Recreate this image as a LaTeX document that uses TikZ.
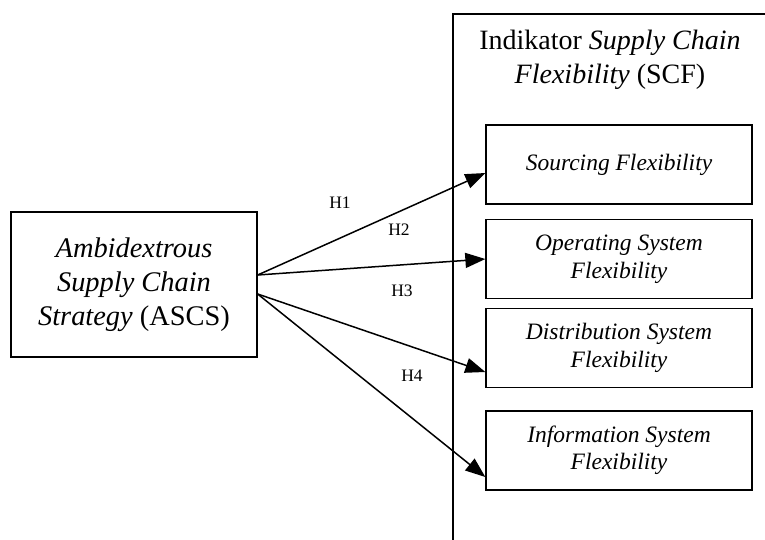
\documentclass[tikz,border=0pt]{standalone}
\usepackage{fontspec}
\setmainfont{Liberation Serif}
\usetikzlibrary{arrows.meta,positioning}

\tikzset{
    kotak/.style={draw, line width=1.3pt, align=center, inner sep=0pt},
    panah/.style={-{Triangle[length=20pt,width=15pt]}, line width=1.5pt},
    label h/.style={font=\fontsize{17.5}{19}\selectfont}
}

\begin{document}
\begin{tikzpicture}[
    x=1pt, y=-1pt, % satuan piksel, sumbu y ke bawah
    >=stealth
]
    \clip (0,0) rectangle (765,539);

    % kotak besar indikator SCF (terpotong di kanan dan bawah)
    \draw[line width=1.3pt] (453,560) |- (790,14);
    \node[align=center, font=\fontsize{28}{34}\selectfont] (judul) at (610,60)
        {Indikator \textit{Supply Chain}\\\textit{Flexibility} (SCF)};

    % variabel independen
    \node[kotak, minimum width=246pt, minimum height=145pt,
          font=\fontsize{28.4}{34}\selectfont] (ascs) at (134,284.5)
        {\textit{Ambidextrous}\\\textit{Supply Chain}\\\textit{Strategy} (ASCS)};

    % indikator SCF
    \foreach \nama/\yy/\teks in {sf/164.5/{\textit{Sourcing Flexibility}},
                                 osf/259/{\textit{Operating System}\\\textit{Flexibility}},
                                 dsf/348/{\textit{Distribution System}\\\textit{Flexibility}},
                                 isf/450.5/{\textit{Information System}\\\textit{Flexibility}}} {
        \node[kotak, minimum width=266pt, minimum height=79pt,
              font=\fontsize{23.5}{27.5}\selectfont] (\nama) at (619,\yy) {\teks};
    }

    % hipotesis
    \draw[panah] ([yshift=9.5pt]ascs.east) -- ([yshift=-8.5pt]sf.west);
    \draw[panah] ([yshift=9.5pt]ascs.east) -- (osf.west);
    \draw[panah] ([yshift=-9.5pt]ascs.east) -- ([yshift=-24pt]dsf.west);
    \draw[panah] ([yshift=-9.5pt]ascs.east) -- ([yshift=-26.5pt]isf.west);

    \node[label h] (h1) at (340,203) {H1};
    \node[label h] (h2) at (399,230) {H2};
    \node[label h] (h3) at (402,291) {H3};
    \node[label h] (h4) at (412,376) {H4};
\end{tikzpicture}
\end{document}
